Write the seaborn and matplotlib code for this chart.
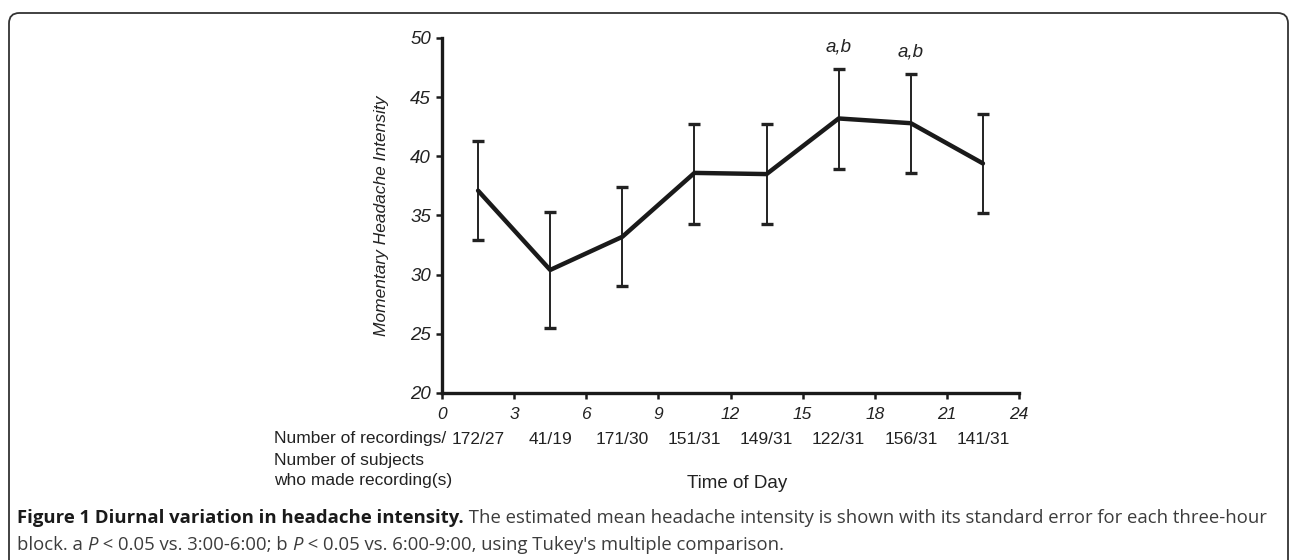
import matplotlib
matplotlib.use("Agg")
import matplotlib.pyplot as plt
from matplotlib.patches import FancyBboxPatch
import numpy as np
import pandas as pd
import seaborn as sns

# ---- data ----
hours = [1.5, 4.5, 7.5, 10.5, 13.5, 16.5, 19.5, 22.5]
intensity = [37.1, 30.4, 33.2, 38.6, 38.5, 43.2, 42.8, 39.4]
err_upper = [41.3, 35.3, 37.4, 42.7, 42.7, 47.35, 46.95, 43.55]
err_lower = [32.9, 25.5, 29.05, 34.3, 34.3, 38.9, 38.6, 35.2]
counts = ["172/27", "41/19", "171/30", "151/31", "149/31", "122/31", "156/31", "141/31"]
sig_hours = [16.5, 19.5]
sig_labels = ["a,b", "a,b"]
sig_y = [49.2, 48.8]
x_ticks = [0, 3, 6, 9, 12, 15, 18, 21, 24]
y_ticks = [20, 25, 30, 35, 40, 45, 50]

df = pd.DataFrame({"hour": hours, "intensity": intensity})

sns.set_theme(style="ticks")
plt.rcParams["font.family"] = ["Liberation Sans", "DejaVu Sans"]

W, H = 1290, 560
fig = plt.figure(figsize=(W / 100, H / 100), dpi=100)
ax = fig.add_axes([442 / W, 1 - 393 / H, (1019 - 442) / W, (393 - 38) / H])

yerr = np.array([np.array(intensity) - np.array(err_lower),
                 np.array(err_upper) - np.array(intensity)])
ax.errorbar(hours, intensity, yerr=yerr, fmt="none", ecolor="#222222",
            elinewidth=1.4, capsize=4, capthick=2.4, zorder=2)
sns.lineplot(data=df, x="hour", y="intensity", ax=ax, color="#1a1a1a",
             linewidth=3.2, zorder=3, legend=False)

ax.set_xlim(0, 24)
ax.set_ylim(20, 50)
ax.set_xticks(x_ticks)
ax.set_yticks(y_ticks)
ax.set_xlabel("")
ax.set_ylabel("Momentary Headache Intensity", fontsize=12.5, style="italic",
              color="#222222", labelpad=15)

for side in ["top", "right"]:
    ax.spines[side].set_visible(False)
for side in ["left", "bottom"]:
    ax.spines[side].set_linewidth(2.4)
    ax.spines[side].set_color("#1a1a1a")
ax.tick_params(axis="both", direction="out", length=4, width=1.8, color="#1a1a1a")
ax.tick_params(axis="y", labelsize=13.5, pad=4)
ax.tick_params(axis="x", labelsize=12.5, pad=6)
for lab in ax.get_yticklabels():
    lab.set_fontstyle("italic")
    lab.set_color("#222222")
for lab in ax.get_xticklabels():
    lab.set_fontstyle("italic")
    lab.set_color("#222222")

for hx, lbl, sy in zip(sig_hours, sig_labels, sig_y):
    ax.text(hx, sy, lbl, ha="center", va="center", fontsize=13.5,
            style="italic", color="#222222")

# counts row under the axis
trans = ax.get_xaxis_transform()
for hx, c in zip(hours, counts):
    ax.text(hx, 1 - (439 - 38) / (393 - 38), c, transform=trans, ha="center",
            va="center", fontsize=12.5, color="#222222", clip_on=False)

row_lbls = ["Number of recordings/", "Number of subjects", "who made recording(s)"]
row_y = [439, 460, 481]
for t, yy in zip(row_lbls, row_y):
    fig.text(274 / W, 1 - yy / H, t, ha="left", va="center", fontsize=12.5,
             color="#222222")

fig.text(737 / W, 1 - 483 / H, "Time of Day", ha="center", va="center",
         fontsize=13.5, color="#222222")

# rounded frame
frame = FancyBboxPatch((9 / W, -0.05), (1288 - 9) / W, (1 - 13 / H) + 0.05,
                       boxstyle="round,pad=0,rounding_size=0.008",
                       transform=fig.transFigure, fill=False,
                       edgecolor="#333333", linewidth=1.3, clip_on=False,
                       mutation_aspect=W / H)
fig.patches.append(frame)

# caption with mixed styles, chained left to right
renderer = fig.canvas.get_renderer()
cap_font = ["Open Sans", "DejaVu Sans"]
cap_size = 13.3


def chain(parts, x0, y0):
    x = x0
    for txt, kw in parts:
        t = fig.text(x / W, 1 - y0 / H, txt, ha="left", va="center",
                     fontsize=cap_size, family=cap_font, **kw)
        bb = t.get_window_extent(renderer)
        x = bb.x1


reg = dict(color="#3c3c3c")
chain([("Figure 1 Diurnal variation in headache intensity.", dict(color="#1a1a1a", weight="bold")),
       (" The estimated mean headache intensity is shown with its standard error for each three-hour", reg)],
      17, 518)
chain([("block. a ", reg), ("P", dict(color="#3c3c3c", style="italic")),
       (" < 0.05 vs. 3:00-6:00; b ", reg), ("P", dict(color="#3c3c3c", style="italic")),
       (" < 0.05 vs. 6:00-9:00, using Tukey's multiple comparison.", reg)],
      17, 545)

fig.savefig("out.png", dpi=100)
